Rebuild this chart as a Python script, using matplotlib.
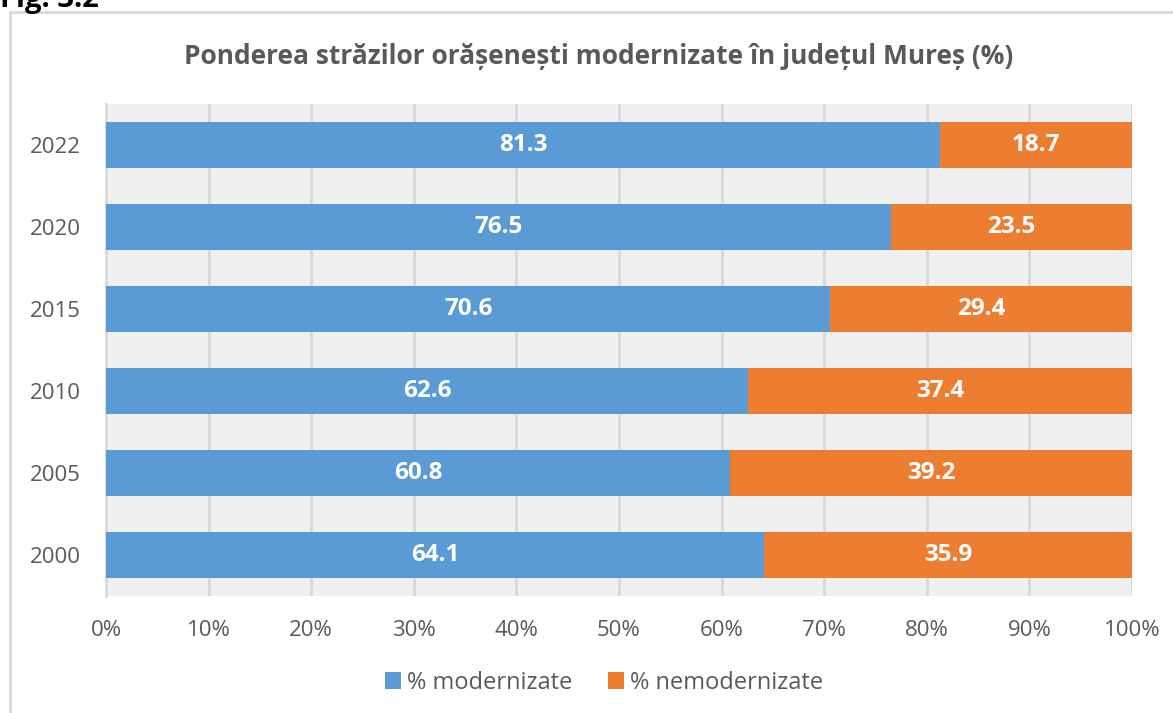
# stacked horizontal bars: modernised vs non-modernised streets, Mures county

import matplotlib.pyplot as plt
from matplotlib.patches import Rectangle
from matplotlib.ticker import PercentFormatter

years = ['2000', '2005', '2010', '2015', '2020', '2022']
modernizate = [64.1, 60.8, 62.6, 70.6, 76.5, 81.3]
nemodernizate = [35.9, 39.2, 37.4, 29.4, 23.5, 18.7]

blue = '#5B9BD5'
orange = '#ED7D31'
gray_txt = '#595959'

plt.rcParams['font.family'] = ['Open Sans', 'DejaVu Sans']

fig = plt.figure(figsize=(11.73, 7.13), dpi=100)
W, H = 1173, 713

# chart frame (runs off the right and bottom of the picture)
fig.patches.append(Rectangle((10 / W, -0.1), 1.2, 1 - 12 / H + 0.1,
                             transform=fig.transFigure, fill=False,
                             edgecolor='#d9d9d9', linewidth=2, zorder=0))
# caption above the chart, cut off by the top edge like in the source page
fig.text(0, 1 - 7 / H, 'Fig. 3.2', fontsize=21, fontweight='bold',
         color='black', ha='left', va='baseline')

ax = fig.add_axes([106 / W, 1 - 596 / H, (1132 - 106) / W, (596 - 104) / H])
ax.set_facecolor('#f0f0f0')

y = range(len(years))
h = 0.57
b1 = ax.barh(y, modernizate, height=h, color=blue, zorder=3)
b2 = ax.barh(y, nemodernizate, left=modernizate, height=h, color=orange, zorder=3)

for bars, vals in ((b1, modernizate), (b2, nemodernizate)):
    ax.bar_label(bars, labels=[f'{v:.1f}' for v in vals], label_type='center',
                 color='white', fontweight='bold', fontsize=17.5)

ax.set_xlim(0, 100)
ax.set_ylim(-0.5, len(years) - 0.5)
ax.set_xticks(range(0, 101, 10))
ax.xaxis.set_major_formatter(PercentFormatter(decimals=0))
ax.set_yticks(list(y))
ax.set_yticklabels(years)
ax.tick_params(axis='both', length=0, labelsize=16, labelcolor=gray_txt)
ax.tick_params(axis='x', pad=17)
ax.tick_params(axis='y', pad=18)
ax.grid(axis='x', color='#d9d9d9', linewidth=2, zorder=1)
for s in ('top', 'right', 'bottom'):
    ax.spines[s].set_visible(False)
ax.spines['left'].set_color('#d9d9d9')
ax.spines['left'].set_linewidth(2)

fig.text(599 / W, 1 - 57 / H, 'Ponderea străzilor orășenești modernizate în județul Mureș (%)',
         ha='center', va='center', fontsize=19, fontweight='bold', color=gray_txt)

fig.legend([b1, b2], ['% modernizate', '% nemodernizate'], loc='center',
           bbox_to_anchor=(604 / W, 1 - 683 / H), ncol=2, frameon=False,
           fontsize=17, labelcolor=gray_txt, handlelength=0.7, handleheight=0.7,
           handletextpad=0.25, columnspacing=1.5)

fig.savefig('out.png', dpi=100)
